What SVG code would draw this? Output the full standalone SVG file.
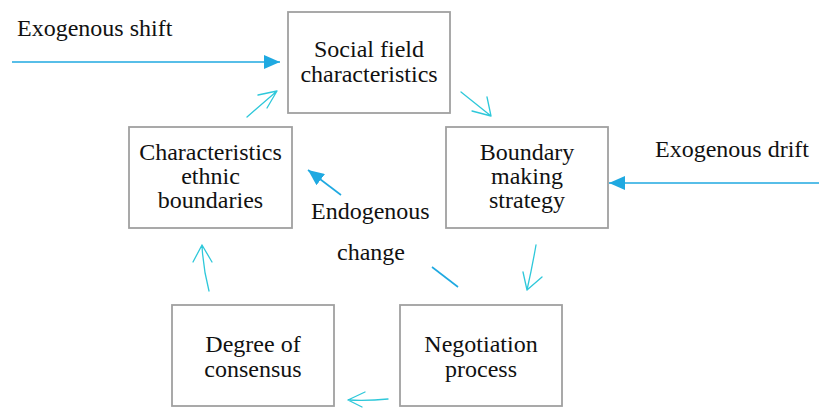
<svg xmlns="http://www.w3.org/2000/svg" width="819" height="408" viewBox="0 0 819 408">
  <style>
    .box { fill: #ffffff; stroke: #a0a0a0; stroke-width: 1.8; }
    text { font-family: 'Liberation Serif', 'Times New Roman', serif; font-size: 24px; fill: #111111; }
    .mid { text-anchor: middle; }
    .flow { fill: none; stroke: #1fa9e1; stroke-width: 1.6; }
    .cycle { fill: none; stroke: #2ec8da; stroke-width: 1.3; stroke-linecap: round; stroke-linejoin: round; }
  </style>
  <defs>
    <marker id="solidHead" viewBox="0 0 16 14" refX="16" refY="7" markerWidth="16" markerHeight="14" markerUnits="userSpaceOnUse" orient="auto">
      <path d="M0,0 L16,7 L0,14 Z" fill="#1fa9e1"/>
    </marker>
  </defs>

  <rect width="819" height="408" fill="#ffffff"/>

  <!-- nodes -->
  <g id="social-field">
    <rect class="box" x="288" y="12" width="162" height="101"/>
    <text class="mid" x="369" y="57">Social field</text>
    <text class="mid" x="369" y="82">characteristics</text>
  </g>
  <g id="ethnic-boundaries">
    <rect class="box" x="129" y="127" width="163" height="101"/>
    <text class="mid" x="210.5" y="160">Characteristics</text>
    <text class="mid" x="210.5" y="184">ethnic</text>
    <text class="mid" x="210.5" y="208">boundaries</text>
  </g>
  <g id="boundary-strategy">
    <rect class="box" x="446" y="127" width="162" height="101"/>
    <text class="mid" x="527" y="160">Boundary</text>
    <text class="mid" x="527" y="184">making</text>
    <text class="mid" x="527" y="208">strategy</text>
  </g>
  <g id="consensus">
    <rect class="box" x="172" y="305" width="162" height="101"/>
    <text class="mid" x="253" y="352">Degree of</text>
    <text class="mid" x="253" y="377">consensus</text>
  </g>
  <g id="negotiation">
    <rect class="box" x="400" y="305" width="162" height="101"/>
    <text class="mid" x="481" y="352">Negotiation</text>
    <text class="mid" x="481" y="377">process</text>
  </g>

  <!-- free labels -->
  <g id="labels">
    <text x="17" y="36">Exogenous shift</text>
    <text x="655" y="157">Exogenous drift</text>
    <text x="311" y="219">Endogenous</text>
    <text x="337" y="260">change</text>
  </g>

  <!-- connectors -->
  <g id="connectors">
    <!-- external influences -->
    <line class="flow" x1="12" y1="62" x2="280" y2="62" marker-end="url(#solidHead)"/>
    <line class="flow" x1="819" y1="183" x2="609" y2="183" marker-end="url(#solidHead)"/>
    <line class="flow" x1="341" y1="195" x2="308" y2="170" marker-end="url(#solidHead)"/>
    <line class="flow" x1="432" y1="267" x2="458" y2="287"/>

    <!-- cycle between the boxes -->
    <path class="cycle" d="M247,117 L277,91 M258,95 L277,91 L267,108"/>
    <path class="cycle" d="M461,92 L491,116 M472,111 L491,116 L487,97"/>
    <path class="cycle" d="M536,245 Q532,268 527,290 M523,272 L527,290 L542,277"/>
    <path class="cycle" d="M388,399 Q368,401 348,400 M365,392 L348,400 L362,407"/>
    <path class="cycle" d="M209,291 Q203,268 202,245 M193,262 L202,245 L212,262"/>
  </g>
</svg>
